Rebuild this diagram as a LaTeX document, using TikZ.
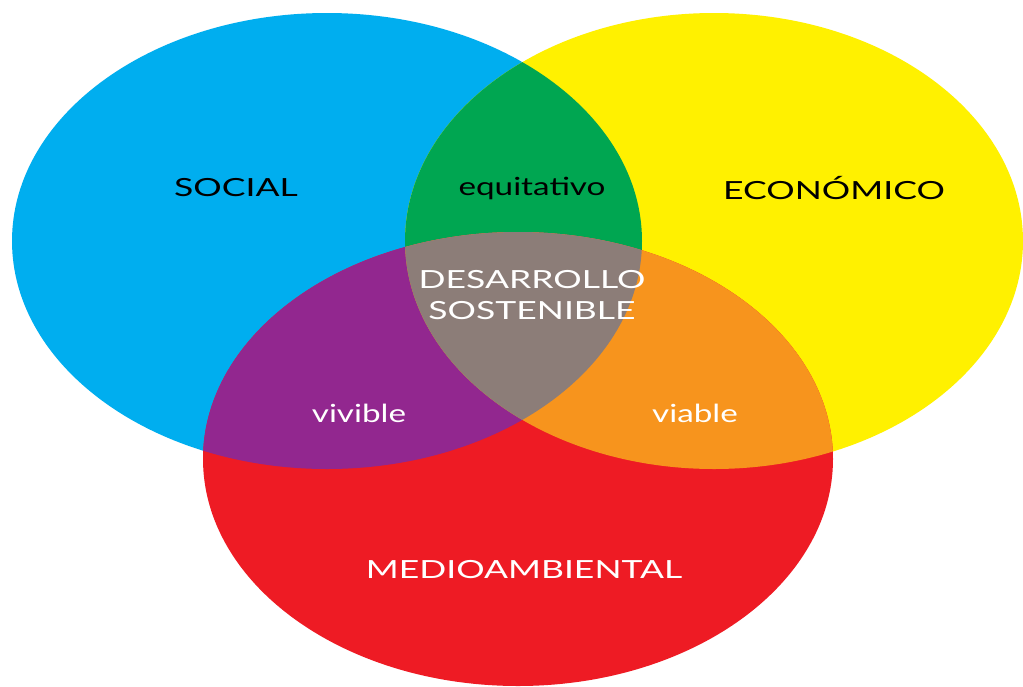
\documentclass[tikz,border=0pt]{standalone}
\usepackage{fontspec}
\setmainfont{Lato}
\definecolor{cblue}{RGB}{0,174,239}
\definecolor{cyellow}{RGB}{255,241,0}
\definecolor{cred}{RGB}{238,27,36}
\definecolor{cgreen}{RGB}{0,166,81}
\definecolor{cpurple}{RGB}{146,39,143}
\definecolor{corange}{RGB}{247,148,29}
\definecolor{cgray}{RGB}{140,125,120}
\newcommand{\blueell}{(327pt,-241pt) ellipse [x radius=315pt, y radius=228pt]}
\newcommand{\yellowell}{(714pt,-241pt) ellipse [x radius=309pt, y radius=228pt]}
\newcommand{\redell}{(518pt,-459pt) ellipse [x radius=315pt, y radius=227pt]}
\newcommand{\hst}[1]{\scalebox{1.33}[1]{#1}}
\newcommand{\hcap}[1]{\scalebox{1.42}[1]{#1}}
\begin{document}
\begin{tikzpicture}[x=1pt,y=-1pt,
  lbl/.style={font=\fontsize{25}{30}\selectfont, inner sep=0pt, align=center},
  dark/.style={lbl, text=black},
  light/.style={lbl, text=white}]
\useasboundingbox (0,0) rectangle (1023,686);
\fill[white] (0,0) rectangle (1023,686);
\fill[cblue] \blueell;
\fill[cyellow] \yellowell;
\fill[cred] \redell;
\begin{scope}
  \clip \blueell;
  \fill[cgreen] \yellowell;
  \fill[cpurple] \redell;
\end{scope}
\begin{scope}
  \clip \yellowell;
  \fill[corange] \redell;
\end{scope}
\begin{scope}
  \clip \blueell;
  \clip \yellowell;
  \fill[cgray] \redell;
\end{scope}
\node[dark] (social) at (236,188) {\hcap{SOCIAL}};
\node[dark] (econ) at (834,188) {\hcap{ECONÓMICO}};
\node[dark] (equit) at (532,188) {\hst{equitativo}};
\node[light] (desa) at (532,295) {\hcap{DESARROLLO}\\[1pt]\hcap{SOSTENIBLE}};
\node[light] (vivi) at (359,413) {\hst{vivible}};
\node[light] (viab) at (695,413) {\hst{viable}};
\node[light] (medio) at (524,570) {\hcap{MEDIOAMBIENTAL}};
\end{tikzpicture}
\end{document}
